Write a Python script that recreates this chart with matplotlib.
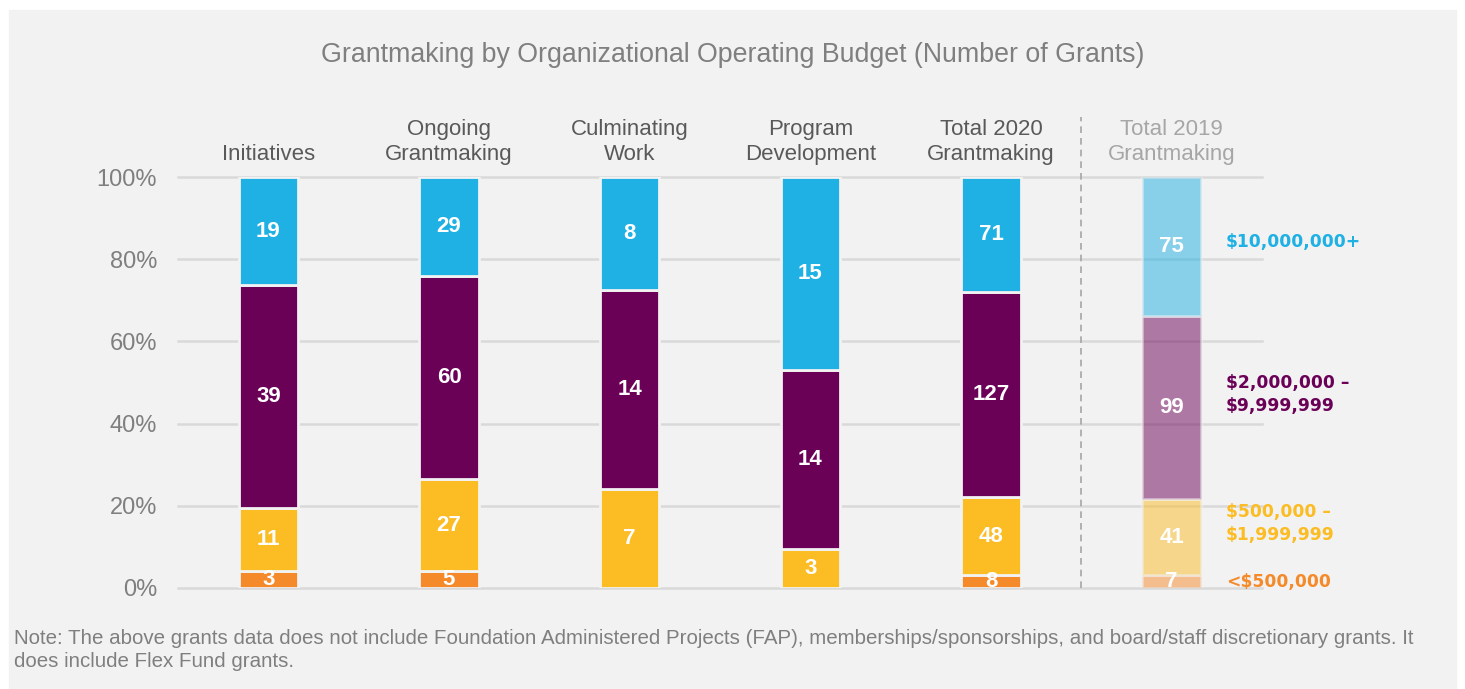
import matplotlib.pyplot as plt
import numpy as np
from matplotlib.patches import Rectangle

categories = ["Initiatives", "Ongoing\nGrantmaking", "Culminating\nWork",
              "Program\nDevelopment", "Total 2020\nGrantmaking", "Total 2019\nGrantmaking"]
under_500k = [3, 5, 0, 0, 8, 7]
k500_to_2m = [11, 27, 7, 3, 48, 41]
m2_to_10m = [39, 60, 14, 14, 127, 99]
over_10m = [19, 29, 8, 15, 71, 75]

series_names = ["<$500,000", "$500,000 \u2013\n$1,999,999", "$2,000,000 \u2013\n$9,999,999", "$10,000,000+"]
series_colors = ["#f58a2b", "#fbbc24", "#6b0057", "#1fb0e4"]
legend_y = [0.015, 0.158, 0.47, 0.842]

BG = "#f2f2f2"
W, H = 1465, 689
SANS = ["Liberation Sans", "DejaVu Sans"]

fig = plt.figure(figsize=(W / 100, H / 100), dpi=100, facecolor="white")
fig.patches.append(Rectangle((9 / W, 0), (1456 - 9) / W, (H - 10) / H,
                             transform=fig.transFigure, color=BG, zorder=-10))

ax = fig.add_axes([178 / W, (H - 588) / H, 1084 / W, 411 / H])
ax.set_facecolor("none")
for s in ax.spines.values():
    s.set_visible(False)

data = np.array([under_500k, k500_to_2m, m2_to_10m, over_10m], dtype=float)
shares = data / data.sum(axis=0)
x = np.arange(len(categories))

ticks = np.linspace(0, 1, 6)
for t in ticks:
    ax.axhline(t, color="#d9d9d9", lw=1.8, zorder=0, clip_on=False)

bottom = np.zeros(len(categories))
for i, (vals, frac) in enumerate(zip(data, shares)):
    for j in range(len(categories)):
        if vals[j] == 0:
            continue
        alpha = 0.5 if j == len(categories) - 1 else 1.0
        ax.bar(x[j], frac[j], bottom=bottom[j], width=0.33, color=series_colors[i],
               alpha=alpha, edgecolor=BG, linewidth=2, zorder=2)
        ax.text(x[j], bottom[j] + frac[j] / 2, f"{int(vals[j])}", ha="center", va="center",
                color="white", fontsize=16, fontweight="bold", family=SANS, zorder=3)
    bottom += frac

ax.set_xlim(-0.5, 5.5)
ax.set_ylim(0, 1)
ax.set_xticks([])
ax.set_yticks(ticks)
ax.set_yticklabels([f"{int(t * 100)}%" for t in ticks], family=SANS, fontsize=17, color="#7f7f7f")
ax.tick_params(axis="y", length=0, pad=15)

trans = ax.get_xaxis_transform()
for j, name in enumerate(categories):
    col = "#a6a6a6" if j == len(categories) - 1 else "#595959"
    ax.text(x[j], 1.03, name, transform=trans, ha="center", va="bottom", color=col,
            fontsize=16, linespacing=1.25, family=SANS)

ax.plot([4.5, 4.5], [0, 1.145], transform=trans, color="#a6a6a6", lw=1.2,
        ls=(0, (4, 3)), clip_on=False, zorder=1)

for name, col, yy in zip(series_names, series_colors, legend_y):
    ax.text(5.30, yy, name, transform=trans, ha="left", va="center", color=col,
            fontsize=12.3, fontweight="bold", family=["DejaVu Sans"], linespacing=1.35)

fig.text(0.5, (H - 55) / H, "Grantmaking by Organizational Operating Budget (Number of Grants)",
         ha="center", va="center", color="#7f7f7f", fontsize=19.3, fontweight="normal",
         family=SANS)

fig.text(14 / W, (H - 650) / H,
         "Note: The above grants data does not include Foundation Administered Projects (FAP), "
         "memberships/sponsorships, and board/staff discretionary grants. It\n"
         "does include Flex Fund grants.",
         ha="left", va="center", color="#7f7f7f", fontsize=14.8, linespacing=1.25,
         family=SANS)

fig.savefig("out.png", dpi=100, facecolor="white")
